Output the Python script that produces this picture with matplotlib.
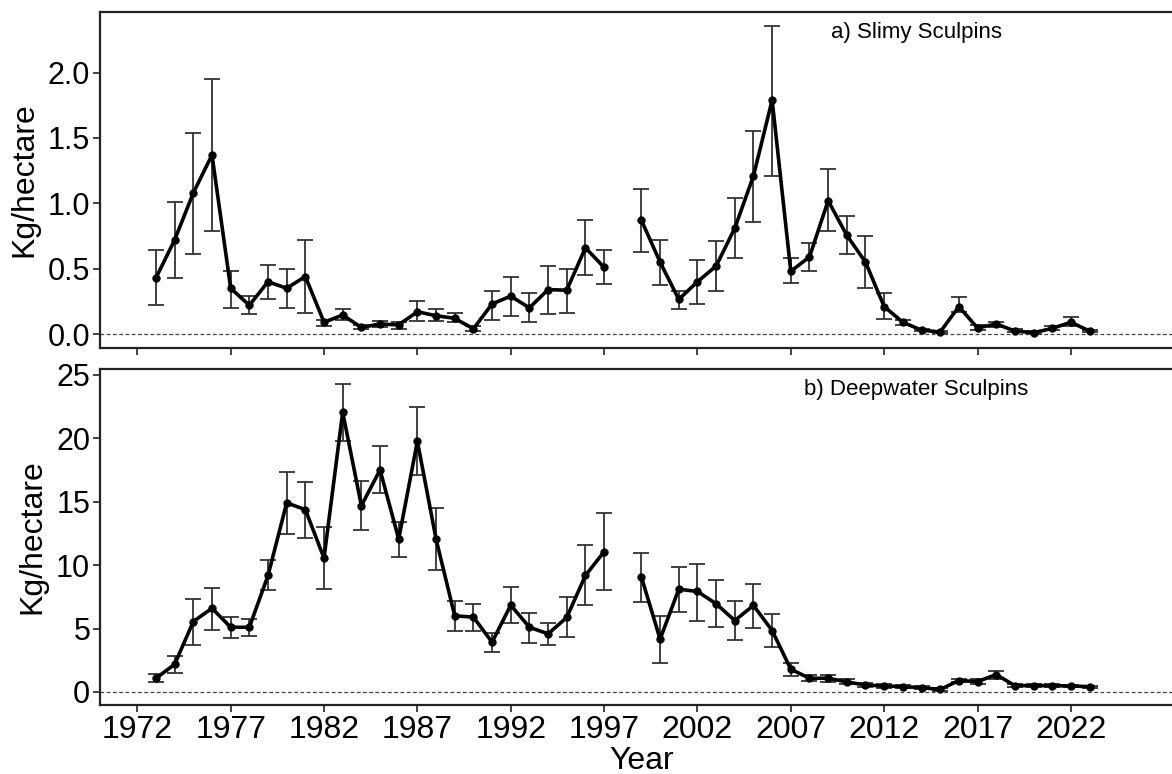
import numpy as np
import matplotlib
matplotlib.use("Agg")
import matplotlib.pyplot as plt

plt.rcParams['font.family'] = ['Liberation Sans', 'DejaVu Sans']

# survey years (no survey in 1998)
years = list(range(1973, 2024))

# a) Slimy Sculpins, kg/hectare
slimy = [0.43, 0.72, 1.08, 1.37, 0.35, 0.22, 0.40, 0.35, 0.44, 0.09, 0.145, 0.05, 0.077,
         0.07, 0.17, 0.14, 0.12, 0.04, 0.23, 0.29, 0.20, 0.34, 0.335, 0.66, 0.51, np.nan,
         0.87, 0.55, 0.265, 0.40, 0.52, 0.81, 1.21, 1.79, 0.48, 0.59, 1.02, 0.755, 0.55,
         0.21, 0.09, 0.03, 0.015, 0.21, 0.046, 0.077, 0.023, 0.01, 0.043, 0.09, 0.023]
slimy_hi = [0.64, 1.01, 1.54, 1.95, 0.48, 0.29, 0.53, 0.50, 0.72, 0.11, 0.19, 0.07, 0.10,
            0.09, 0.25, 0.19, 0.16, 0.06, 0.33, 0.44, 0.31, 0.52, 0.50, 0.87, 0.64, np.nan,
            1.11, 0.72, 0.33, 0.57, 0.71, 1.04, 1.55, 2.36, 0.58, 0.70, 1.26, 0.90, 0.75,
            0.31, 0.11, 0.04, 0.025, 0.28, 0.07, 0.09, 0.035, 0.02, 0.06, 0.13, 0.03]
slimy_lo = [0.22, 0.43, 0.61, 0.79, 0.20, 0.15, 0.27, 0.20, 0.16, 0.06, 0.11, 0.04, 0.055,
            0.04, 0.10, 0.10, 0.09, 0.02, 0.11, 0.14, 0.095, 0.15, 0.16, 0.45, 0.38, np.nan,
            0.625, 0.375, 0.19, 0.23, 0.33, 0.58, 0.86, 1.21, 0.39, 0.48, 0.79, 0.61, 0.35,
            0.115, 0.07, 0.02, 0.005, 0.17, 0.03, 0.055, 0.012, 0.0, 0.03, 0.06, 0.015]

# b) Deepwater Sculpins, kg/hectare
deep = [1.08, 2.18, 5.55, 6.6, 5.1, 5.1, 9.18, 14.9, 14.37, 10.55, 22.05, 14.68, 17.5,
        12.05, 19.76, 12.05, 6.0, 5.9, 3.92, 6.84, 5.1, 4.58, 5.87, 9.18, 11.05, np.nan,
        9.05, 4.16, 8.1, 7.92, 6.95, 5.63, 6.82, 4.84, 1.79, 1.08, 1.08, 0.79, 0.55,
        0.47, 0.42, 0.34, 0.2, 0.9, 0.82, 1.37, 0.5, 0.5, 0.5, 0.47, 0.42]
deep_hi = [1.42, 2.84, 7.32, 8.2, 5.9, 5.79, 10.37, 17.34, 16.58, 12.97, 24.3, 16.6, 19.4,
           13.42, 22.45, 14.5, 7.2, 6.95, 4.63, 8.26, 6.26, 5.45, 7.45, 11.55, 14.13, np.nan,
           10.97, 5.95, 9.87, 10.05, 8.79, 7.16, 8.53, 6.16, 2.32, 1.37, 1.3, 1.0, 0.7,
           0.6, 0.52, 0.45, 0.3, 1.05, 1.0, 1.68, 0.6, 0.6, 0.6, 0.55, 0.5]
deep_lo = [0.79, 1.5, 3.74, 4.92, 4.29, 4.42, 8.05, 12.42, 12.16, 8.13, 19.8, 12.76, 15.68,
           10.66, 17.08, 9.63, 4.82, 4.82, 3.13, 5.42, 3.89, 3.71, 4.34, 6.84, 8.0, np.nan,
           7.1, 2.32, 6.3, 5.63, 5.1, 4.08, 5.05, 3.53, 1.29, 0.9, 0.8, 0.6, 0.42,
           0.35, 0.32, 0.24, 0.1, 0.75, 0.65, 1.05, 0.4, 0.4, 0.4, 0.38, 0.34]

xticks = list(range(1972, 2023, 5))

fig = plt.figure(figsize=(11.72, 7.74), dpi=100)
ax1 = fig.add_axes([0.0853, 0.5504, 0.924, 0.4341])
ax2 = fig.add_axes([0.0853, 0.0891, 0.924, 0.4341])


def panel(ax, vals, lo, hi, ylim, yticks, fmt, label):
    v = np.array(vals)
    err = [v - np.array(lo), np.array(hi) - v]
    ax.axhline(0, color='#444444', lw=0.9, ls=(0, (3, 2)), zorder=1)
    ax.errorbar(years, v, yerr=err, fmt='none', ecolor='#333333', elinewidth=1.3,
                capsize=6, capthick=1.3, zorder=2)
    ax.plot(years, v, color='black', lw=2.6, marker='o', ms=5, zorder=3)
    ax.set_xlim(1970, 2028)
    ax.set_ylim(*ylim)
    ax.set_yticks(yticks)
    ax.set_yticklabels([fmt.format(t) for t in yticks])
    ax.set_xticks(xticks)
    ax.set_ylabel('Kg/hectare', fontsize=23, labelpad=6)
    ax.tick_params(axis='both', direction='out', length=5, width=1.2, labelsize=22,
                   colors='#222222', labelcolor='black', pad=2)
    for s in ['left', 'bottom', 'top']:
        ax.spines[s].set_linewidth(1.6)
        ax.spines[s].set_color('#222222')
    ax.spines['right'].set_visible(False)
    ax.text(0.754, 0.94, label, transform=ax.transAxes, fontsize=16, ha='center', va='center')


panel(ax1, slimy, slimy_lo, slimy_hi, (-0.107, 2.464), [0, 0.5, 1.0, 1.5, 2.0], '{:.1f}',
      'a) Slimy Sculpins')
panel(ax2, deep, deep_lo, deep_hi, (-1.03, 25.45), [0, 5, 10, 15, 20, 25], '{:.0f}',
      'b) Deepwater Sculpins')
ax1.set_xticklabels([])
ax2.set_xticklabels([str(t) for t in xticks], fontsize=23)
ax2.set_xlabel('Year', fontsize=23, labelpad=1)

fig.savefig('out.png', dpi=100)
